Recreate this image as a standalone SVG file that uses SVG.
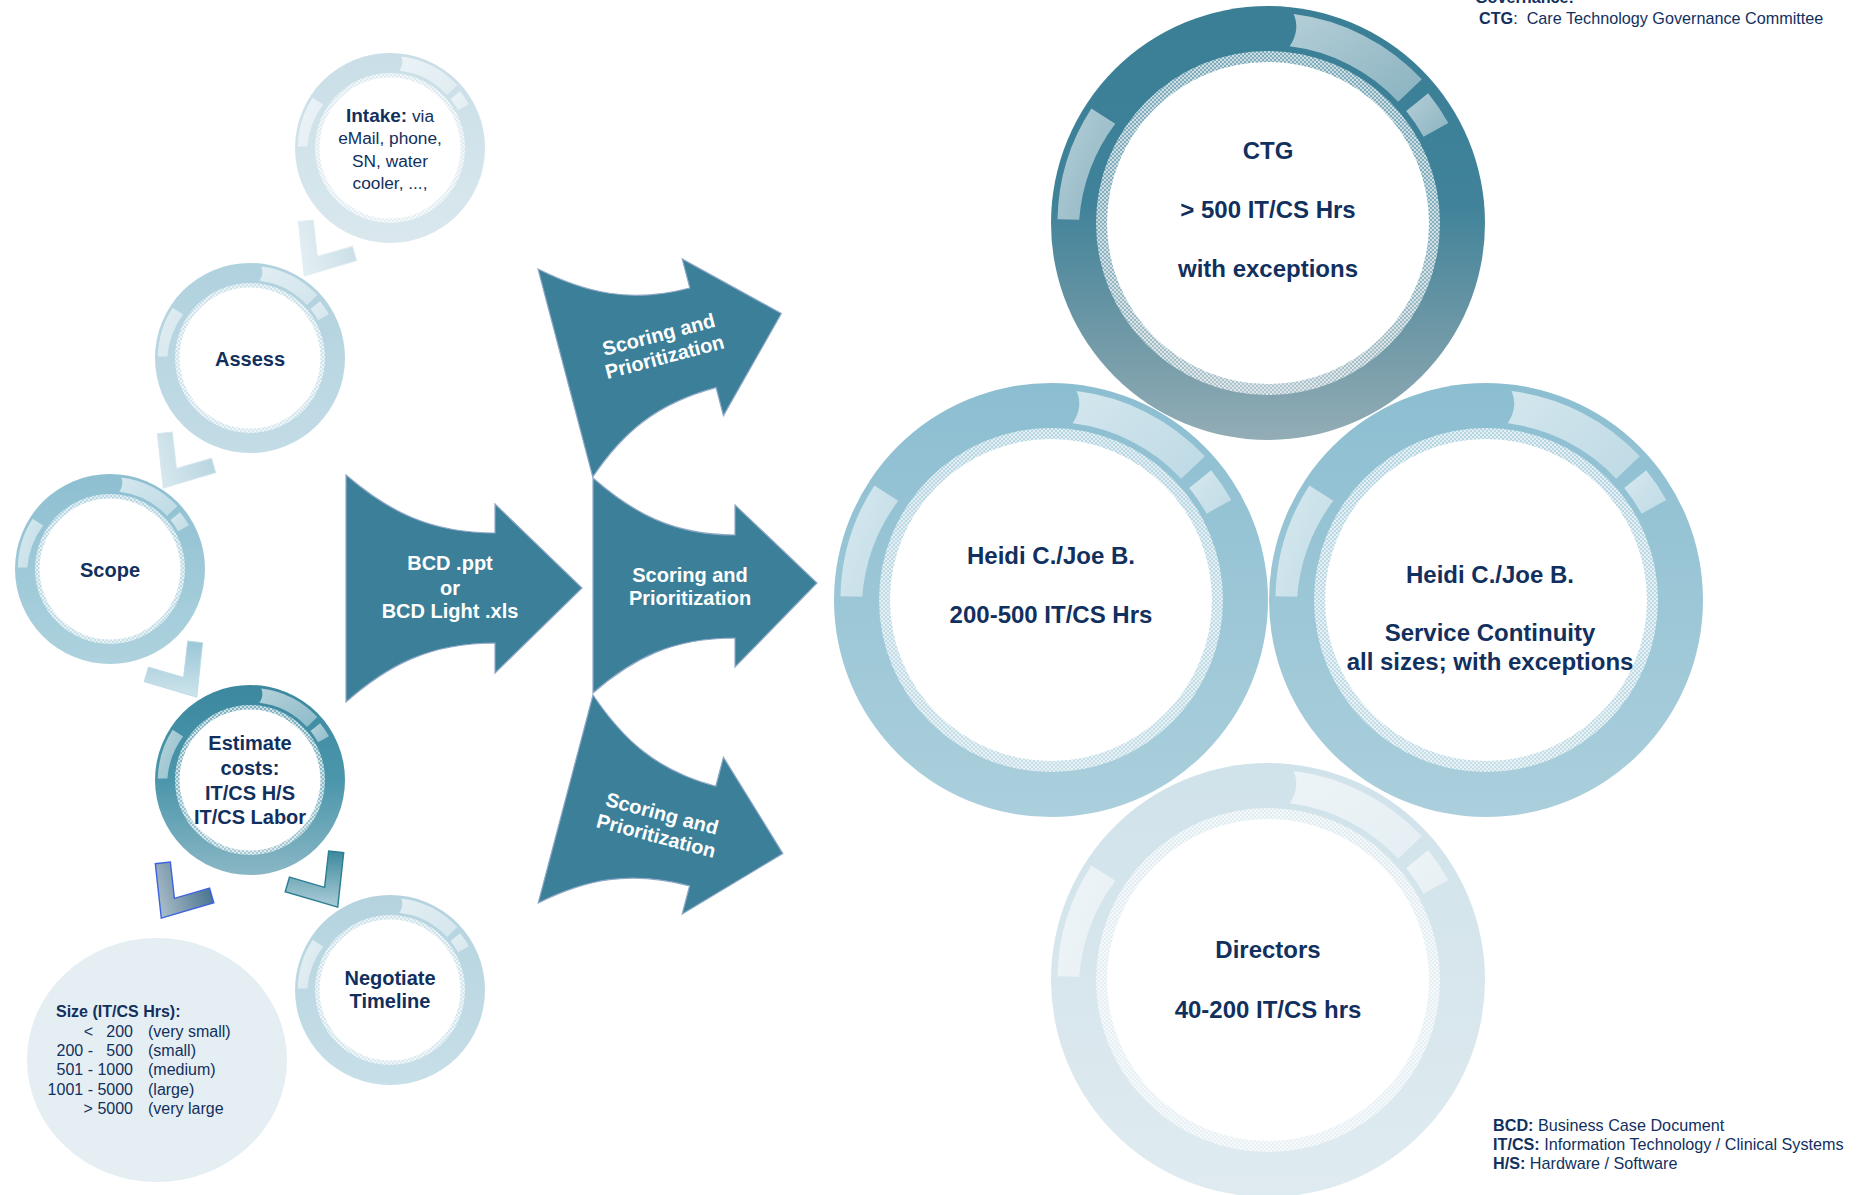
<svg xmlns="http://www.w3.org/2000/svg" width="1867" height="1195" viewBox="0 0 1867 1195">
<defs>
<style>
.t{font-family:"Liberation Sans",Arial,sans-serif;fill:#12305e}
.b{font-weight:bold}
.w{font-family:"Liberation Sans",Arial,sans-serif;fill:#fff;font-weight:bold;font-size:20px;text-anchor:middle}
.c{text-anchor:middle}
.arrow{fill:#3b7f99;stroke:#8ea8c6;stroke-width:1.2}
.hl{fill:url(#gHl)}
</style>
<linearGradient id="gHl" x1="0" y1="0" x2="1" y2="1"><stop offset="0" stop-color="#fff" stop-opacity="0.62"/><stop offset="1" stop-color="#fff" stop-opacity="0.4"/></linearGradient>
<linearGradient id="gIntake" x1="0" y1="0" x2="0" y2="1"><stop offset="0" stop-color="#c9dee7"/><stop offset="1" stop-color="#dae8ee"/></linearGradient>
<linearGradient id="gAssess" x1="0" y1="0" x2="0" y2="1"><stop offset="0" stop-color="#b0d1de"/><stop offset="1" stop-color="#c3dce6"/></linearGradient>
<linearGradient id="gScope" x1="0" y1="0" x2="0" y2="1"><stop offset="0" stop-color="#8dbfd1"/><stop offset="1" stop-color="#aed2de"/></linearGradient>
<linearGradient id="gEst" x1="0" y1="0" x2="0" y2="1"><stop offset="0" stop-color="#3b889f"/><stop offset="0.5" stop-color="#4b96ab"/><stop offset="1" stop-color="#8ab7c5"/></linearGradient>
<linearGradient id="gNeg" x1="0" y1="0" x2="0" y2="1"><stop offset="0" stop-color="#b4d3df"/><stop offset="1" stop-color="#c7dfe8"/></linearGradient>
<linearGradient id="gCTG" x1="0" y1="0" x2="0" y2="1"><stop offset="0" stop-color="#3a7f96"/><stop offset="0.45" stop-color="#3f8299"/><stop offset="0.75" stop-color="#6e98a6"/><stop offset="1" stop-color="#93adb6"/></linearGradient>
<linearGradient id="gHeidi" x1="0" y1="0" x2="0" y2="1"><stop offset="0" stop-color="#8cbed1"/><stop offset="1" stop-color="#abcfdc"/></linearGradient>
<linearGradient id="gDir" x1="0" y1="0" x2="0" y2="1"><stop offset="0" stop-color="#d0e2ea"/><stop offset="1" stop-color="#dfebf0"/></linearGradient>
<linearGradient id="gCh1" x1="0" y1="0" x2="1" y2="1"><stop offset="0" stop-color="#c8dde6"/><stop offset="1" stop-color="#eef5f8"/></linearGradient>
<linearGradient id="gCh2" x1="0" y1="0" x2="1" y2="1"><stop offset="0" stop-color="#b4d3df"/><stop offset="1" stop-color="#e4eff3"/></linearGradient>
<linearGradient id="gCh3" x1="0" y1="0" x2="1" y2="1"><stop offset="0" stop-color="#94c3d4"/><stop offset="1" stop-color="#e1eef3"/></linearGradient>
<linearGradient id="gCh4" x1="0" y1="0" x2="1" y2="1"><stop offset="0" stop-color="#3f6c8a"/><stop offset="1" stop-color="#d0dade"/></linearGradient>
<linearGradient id="gCh5" x1="0" y1="0" x2="1" y2="1"><stop offset="0" stop-color="#2f8197"/><stop offset="1" stop-color="#d6e6ec"/></linearGradient>
<pattern id="hatch" width="4" height="4" patternUnits="userSpaceOnUse">
<rect width="4" height="4" fill="#fff" fill-opacity="0.35"/>
<rect width="2" height="2" fill="#fff" fill-opacity="0.6"/>
<rect x="2" y="2" width="2" height="2" fill="#fff" fill-opacity="0.6"/>
</pattern>
<g id="hlset">
<path class="hl" d="M 11.8,-96.3 A 97 97 0 0 1 70.9,-66.2 L 60.0,-55.9 A 82 82 0 0 0 10.0,-81.4 Q 15,-89 11.8,-96.3 Z"/>
<path class="hl" d="M 73.8,-59.8 A 95 95 0 0 1 83.1,-46.1 L 71.7,-39.8 A 82 82 0 0 0 63.7,-51.6 Z"/>
<path class="hl" d="M -97,-1.7 A 97 97 0 0 1 -81.4,-52.8 L -70.4,-45.7 A 85 85 0 0 0 -87,-1.5 Z"/>
</g>
<polygon id="chev" points="12.45,0 -31.7,-37 -41.9,-24.8 -12.45,0 -41.9,24.8 -31.7,37"/>
</defs>
<rect width="1867" height="1195" fill="#fff"/>

<!-- Big governance circles -->
<g id="n-ctg" transform="translate(1268,223)">
<circle r="217" fill="url(#gCTG)"/>
<circle r="172" fill="url(#hatch)"/>
<circle r="161" fill="#fff"/>
<use href="#hlset" transform="scale(2.17)"/>
<text class="t b c" font-size="24" y="-64">CTG</text>
<text class="t b c" font-size="24" y="-5">&gt; 500 IT/CS Hrs</text>
<text class="t b c" font-size="24" y="54">with exceptions</text>
</g>
<g id="n-directors" transform="translate(1268,980)">
<circle r="217" fill="url(#gDir)"/>
<circle r="172" fill="url(#hatch)"/>
<circle r="161" fill="#fff"/>
<use href="#hlset" transform="scale(2.17)"/>
<text class="t b c" font-size="24" y="-22">Directors</text>
<text class="t b c" font-size="24" y="38">40-200 IT/CS hrs</text>
</g>
<g id="n-heidi1" transform="translate(1051,600)">
<circle r="217" fill="url(#gHeidi)"/>
<circle r="172" fill="url(#hatch)"/>
<circle r="161" fill="#fff"/>
<use href="#hlset" transform="scale(2.17)"/>
<text class="t b c" font-size="24" y="-36">Heidi C./Joe B.</text>
<text class="t b c" font-size="24" y="23">200-500 IT/CS Hrs</text>
</g>
<g id="n-heidi2" transform="translate(1486,600)">
<circle r="217" fill="url(#gHeidi)"/>
<circle r="172" fill="url(#hatch)"/>
<circle r="161" fill="#fff"/>
<use href="#hlset" transform="scale(2.17)"/>
<text class="t b c" font-size="24" x="4" y="-17">Heidi C./Joe B.</text>
<text class="t b c" font-size="24" x="4" y="41">Service Continuity</text>
<text class="t b c" font-size="24" x="4" y="70">all sizes; with exceptions</text>
</g>

<!-- Process circles -->
<g id="n-intake" transform="translate(390,148)">
<circle r="95" fill="url(#gIntake)"/>
<circle r="75" fill="url(#hatch)"/>
<circle r="70.5" fill="#fff"/>
<use href="#hlset" transform="scale(0.95)"/>
<text class="t c" font-size="17.3" y="-26"><tspan class="b" font-size="19">Intake:</tspan> via</text>
<text class="t c" font-size="17.3" y="-4">eMail, phone,</text>
<text class="t c" font-size="17.3" y="19">SN, water</text>
<text class="t c" font-size="17.3" y="41">cooler, ...,</text>
</g>
<g id="n-assess" transform="translate(250,358)">
<circle r="95" fill="url(#gAssess)"/>
<circle r="75" fill="url(#hatch)"/>
<circle r="70.5" fill="#fff"/>
<use href="#hlset" transform="scale(0.95)"/>
<text class="t b c" font-size="20" y="8">Assess</text>
</g>
<g id="n-scope" transform="translate(110,569)">
<circle r="95" fill="url(#gScope)"/>
<circle r="75" fill="url(#hatch)"/>
<circle r="70.5" fill="#fff"/>
<use href="#hlset" transform="scale(0.95)"/>
<text class="t b c" font-size="20" y="8">Scope</text>
</g>
<g id="n-estimate" transform="translate(250,780)">
<circle r="95" fill="url(#gEst)"/>
<circle r="75" fill="url(#hatch)"/>
<circle r="70.5" fill="#fff"/>
<use href="#hlset" transform="scale(0.95)"/>
<text class="t b c" font-size="20" y="-30">Estimate</text>
<text class="t b c" font-size="20" y="-5">costs:</text>
<text class="t b c" font-size="20" y="20">IT/CS H/S</text>
<text class="t b c" font-size="20" y="44">IT/CS Labor</text>
</g>
<g id="n-negotiate" transform="translate(390,990)">
<circle r="95" fill="url(#gNeg)"/>
<circle r="75" fill="url(#hatch)"/>
<circle r="70.5" fill="#fff"/>
<use href="#hlset" transform="scale(0.95)"/>
<text class="t b c" font-size="20" y="-5">Negotiate</text>
<text class="t b c" font-size="20" y="18">Timeline</text>
</g>
<g id="n-size">
<ellipse cx="157" cy="1060" rx="130" ry="122" fill="#e5eef2"/>
<text class="t b" font-size="16" x="56" y="1017">Size (IT/CS Hrs):</text>
<g class="t" font-size="16">
<text x="133" y="1037" text-anchor="end" xml:space="preserve">&lt;   200</text>
<text x="133" y="1056" text-anchor="end" xml:space="preserve">200 -   500</text>
<text x="133" y="1075" text-anchor="end">501 - 1000</text>
<text x="133" y="1095" text-anchor="end">1001 - 5000</text>
<text x="133" y="1114" text-anchor="end">&gt; 5000</text>
<text x="148" y="1037">(very small)</text>
<text x="148" y="1056">(small)</text>
<text x="148" y="1075">(medium)</text>
<text x="148" y="1095">(large)</text>
<text x="148" y="1114">(very large</text>
</g>
</g>

<!-- Block arrows -->
<g id="n-bcd" transform="translate(346,475)">
<path class="arrow" d="M0,0 C42,36 84,58 149,58 L149,29 L236,113 L149,198 L149,168 C84,168 42,190 0,227 Z"/>
<text class="w" x="104" y="95">BCD .ppt</text>
<text class="w" x="104" y="120">or</text>
<text class="w" x="104" y="143">BCD Light .xls</text>
</g>
<g id="n-score-top" transform="translate(538,269) rotate(-14.75)">
<path class="arrow" d="M0,0 C40,35 80,57 142,57 L142,27 L224,105 L142,189 L142,160 C80,160 40,180 0,215 Z"/>
<text class="w" x="100" y="101">Scoring and</text>
<text class="w" x="100" y="124">Prioritization</text>
</g>
<g id="n-score-mid" transform="translate(593,478)">
<path class="arrow" d="M0,0 C40,35 80,57 142,57 L142,27 L224,105 L142,189 L142,160 C80,160 40,180 0,215 Z"/>
<text class="w" x="97" y="104">Scoring and</text>
<text class="w" x="97" y="127">Prioritization</text>
</g>
<g id="n-score-bot" transform="translate(593,695) rotate(14.75)">
<path class="arrow" d="M0,0 C40,35 80,57 142,57 L142,27 L224,105 L142,189 L142,160 C80,160 40,180 0,215 Z"/>
<text class="w" x="97" y="104">Scoring and</text>
<text class="w" x="97" y="127">Prioritization</text>
</g>

<!-- Connectors (chevrons) -->
<g id="connectors">
<use href="#chev" fill="url(#gCh1)" stroke="#e2edf2" stroke-width="1" transform="translate(319,254) rotate(123.7) translate(14.7,0) scale(0.95)"/>
<use href="#chev" fill="url(#gCh2)" stroke="#d6e7ee" stroke-width="1" transform="translate(178,466) rotate(123.7) translate(14.7,0) scale(0.95)"/>
<use href="#chev" fill="url(#gCh3)" stroke="#bcdbe6" stroke-width="1" transform="translate(182,675) rotate(56.3) translate(14.7,0) scale(0.95)"/>
<use href="#chev" fill="url(#gCh4)" stroke="#3f63e0" stroke-width="1.5" transform="translate(176,896) rotate(123.7) translate(14.7,0) scale(0.95)"/>
<use href="#chev" fill="url(#gCh5)" stroke="#2a7f95" stroke-width="1.5" transform="translate(323,885) rotate(56.3) translate(14.7,0) scale(0.95)"/>
</g>

<!-- Legends -->
<g id="legend-top" class="t" font-size="16.2">
<text class="b" x="1475" y="3">Governance:</text>
<text x="1479" y="24" xml:space="preserve"><tspan class="b">CTG</tspan>:  Care Technology Governance Committee</text>
</g>
<g id="legend-bottom" class="t" font-size="16.2">
<text x="1493" y="1131"><tspan class="b">BCD:</tspan> Business Case Document</text>
<text x="1493" y="1150"><tspan class="b">IT/CS:</tspan> Information Technology / Clinical Systems</text>
<text x="1493" y="1169"><tspan class="b">H/S:</tspan> Hardware / Software</text>
</g>
</svg>
